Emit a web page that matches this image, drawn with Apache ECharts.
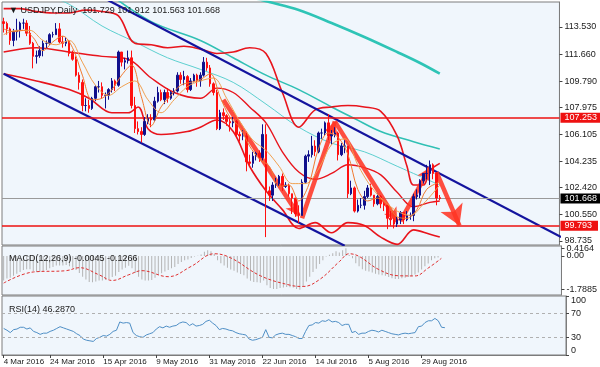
<!DOCTYPE html>
<html><head><meta charset="utf-8">
<script src="https://cdn.jsdelivr.net/npm/echarts@6/dist/echarts.min.js"></script>
<style>html,body{margin:0;padding:0;background:#fff}#c{width:600px;height:367px}</style>
</head><body><div id="c"></div>
<script>
// ---------- data ----------
const symbolName = 'USDJPY,Daily';
const tickLabels = ['4 Mar 2016','24 Mar 2016','15 Apr 2016','9 May 2016','31 May 2016','22 Jun 2016','14 Jul 2016','5 Aug 2016','29 Aug 2016'];
const priceTicks = [113.530,111.660,109.790,107.975,106.105,104.235,102.420,100.550,98.735];
const macdTicks = [0, -1.7885];
const macdMaxTick = [0.4164];
const rsiTicks = [0, 30, 70, 100];
const levelRed = [107.253, 99.793];
const lastPrice = 101.668;

// daily candles: [open, close, low, high]
const candles = [
[113.90,113.77,113.15,114.17],[113.77,113.40,113.00,113.90],[113.40,112.60,112.30,113.50],[112.60,113.20,112.20,113.40],
[113.20,113.30,112.60,114.10],[113.30,113.80,112.80,113.90],[113.80,113.80,113.40,114.10],[113.80,113.10,112.90,114.00],
[113.10,112.40,112.30,113.60],[112.40,111.50,110.67,112.50],[111.50,111.55,111.00,111.90],[111.55,111.90,111.40,112.20],
[111.90,112.40,111.50,112.60],[112.40,112.40,112.00,112.60],[112.40,113.00,112.30,113.10],[113.00,113.00,112.80,113.20],
[113.00,113.40,113.00,113.80],[113.40,112.50,112.40,113.80],[112.50,112.40,112.10,112.90],[112.40,112.55,112.20,112.80],
[112.55,111.70,111.50,112.60],[111.70,111.30,111.20,111.90],[111.30,110.20,110.10,111.50],[110.20,109.70,109.20,110.40],
[109.70,108.10,107.70,109.90],[108.10,108.10,107.70,108.60],[108.10,107.90,107.60,108.50],[107.90,108.60,107.80,108.70],
[108.60,109.40,108.40,109.50],[109.40,109.40,109.00,109.80],[109.40,108.80,108.60,109.70],[108.80,108.80,107.90,109.00],
[108.80,109.20,108.50,109.30],[109.20,109.80,109.00,110.00],[109.80,109.50,109.10,109.90],[109.50,111.80,109.40,111.90],
[111.80,111.10,110.80,111.80],[111.10,111.20,110.60,111.40],[111.20,111.40,111.00,111.90],[111.40,108.10,107.90,111.90],
[108.10,106.50,106.20,108.70],[106.50,106.30,106.10,107.00],[106.30,106.10,105.55,106.60],[106.10,107.00,106.00,107.30],
[107.00,107.20,106.80,107.50],[107.20,107.10,106.60,107.50],[107.10,108.40,107.00,108.70],[108.40,109.00,108.30,109.40],
[109.00,108.50,108.40,109.20],[108.50,109.00,108.20,109.20],[109.00,108.60,108.30,109.30],[108.60,109.00,108.50,109.10],
[109.00,109.10,108.80,109.30],[109.10,110.20,109.00,110.40],[110.20,109.90,109.60,110.40],[109.90,110.10,109.50,110.50],
[110.10,109.20,109.00,110.20],[109.20,109.80,109.10,110.00],[109.80,110.20,109.70,110.30],[110.20,109.80,109.40,110.30],
[109.80,110.20,109.40,110.40],[110.20,111.10,110.10,111.45],[111.10,110.70,110.50,111.40],[110.70,109.60,109.40,110.90],
[109.60,109.00,108.80,109.70],[109.00,106.50,106.40,109.20],[106.50,107.60,106.40,107.80],[107.60,107.40,107.10,107.90],
[107.40,107.00,106.70,107.50],[107.00,106.90,106.30,107.20],[106.90,107.00,106.60,107.30],[107.00,106.10,105.90,107.10],
[106.10,106.00,105.60,106.30],[106.00,106.00,105.70,106.40],[106.00,104.20,103.55,106.30],[104.20,104.10,103.90,104.70],
[104.10,104.60,103.80,104.90],[104.60,104.80,104.30,104.90],[104.80,104.50,104.20,105.00],[104.50,106.10,104.30,106.80],
[106.10,102.20,99.00,106.80],[102.20,101.90,101.50,102.50],[101.90,102.60,101.50,102.80],[102.60,102.70,102.40,103.10],
[102.70,103.20,102.50,103.30],[103.20,102.50,102.20,103.40],[102.50,102.60,102.40,102.80],[102.60,102.00,101.80,102.70],
[102.00,101.70,100.60,102.00],[101.70,100.60,100.40,101.70],[100.60,100.50,99.98,101.20],[100.50,102.80,100.50,103.00],
[102.80,104.60,102.70,104.70],[104.60,104.70,104.20,105.00],[104.70,105.30,104.50,106.00],[105.30,104.90,104.60,105.70],
[104.90,106.20,104.80,106.30],[106.20,106.20,105.80,106.50],[106.20,106.90,106.00,107.00],[106.90,106.00,105.70,107.50],
[106.00,106.10,105.40,106.40],[106.10,106.20,105.90,106.60],[106.20,104.70,104.30,106.30],[104.70,105.30,104.60,105.50],
[105.30,105.30,104.80,105.70],[105.30,102.00,101.70,105.30],[102.00,102.40,101.90,102.90],[102.40,100.80,100.70,102.50],
[100.80,101.20,100.70,101.60],[101.20,101.20,101.00,101.70],[101.20,101.80,100.90,102.20],[101.80,102.40,101.70,102.60],
[102.40,101.90,101.80,102.70],[101.90,101.30,101.10,101.90],[101.30,101.80,101.20,102.00],[101.80,101.30,101.00,101.90],
[101.30,101.20,100.80,101.40],[101.20,100.30,99.55,101.30],[100.30,100.20,99.80,100.80],[100.20,99.90,99.60,100.30],
[99.90,100.20,99.70,100.40],[100.20,100.70,99.90,100.80],[100.70,100.20,99.90,100.70],[100.20,100.50,100.10,100.80],
[100.50,100.50,100.20,100.70],[100.50,101.80,100.10,102.00],[101.80,101.90,101.60,102.30],[101.90,102.90,101.70,103.00],
[102.90,103.40,102.70,103.40],[103.40,103.40,103.00,104.00],[103.40,104.00,102.60,104.30],[104.00,103.40,103.00,104.10],
[103.40,101.70,101.20,103.50],[101.729,101.668,101.563,101.912]
];

// indicator lines: [bar index, price]
const bbUpper = [[0,114.8],[5,114.8],[10,114.6],[15,114.5],[20,114.5],[25,114.7],[30,114.6],[35,114.3],[40,112.4],[45,112.3],[50,112.1],[55,112.2],[60,112.0],[65,111.7],[70,111.8],[75,112.1],[80,111.7],[85,109.0],[90,106.6],[95,107.8],[100,108.0],[105,108.1],[110,108.0],[115,107.7],[120,106.0],[123,103.9],[125,102.6],[128,102.6],[130,103.6],[133,104.1]];
const bbMid = [[0,111.8],[10,112.1],[20,111.8],[30,111.5],[38,111.3],[45,110.0],[52,109.0],[60,108.6],[65,109.3],[70,109.0],[75,108.0],[80,106.9],[85,104.9],[90,103.5],[95,103.0],[100,103.4],[105,104.0],[110,103.8],[115,103.3],[120,102.1],[125,101.1],[130,101.4],[133,101.5]];
const bbLower = [[0,110.3],[10,109.8],[20,109.2],[26,108.6],[33,107.6],[38,107.6],[41,108.0],[44,106.5],[48,106.1],[56,106.3],[60,106.6],[65,107.1],[70,106.3],[75,103.9],[80,102.2],[85,100.9],[90,99.6],[95,100.0],[100,99.3],[105,100.0],[110,99.8],[115,99.0],[120,98.5],[125,99.5],[130,99.2],[133,99.0]];
const maFast = [[0,113.4],[3,113.2],[6,113.3],[9,112.8],[12,111.9],[15,112.5],[18,112.9],[21,112.1],[24,110.2],[27,108.5],[30,108.6],[33,109.2],[36,110.2],[39,110.9],[42,108.7],[45,106.7],[48,108.0],[51,108.8],[54,109.5],[57,109.7],[60,109.9],[63,110.3],[66,108.7],[69,107.3],[72,106.6],[75,105.3],[78,104.4],[81,103.9],[84,102.5],[87,102.6],[90,101.5],[93,102.6],[96,105.1],[99,106.2],[102,105.9],[105,104.7],[108,102.3],[111,101.5],[114,101.7],[117,101.3],[120,100.4],[123,100.3],[126,100.9],[129,102.3],[133,102.8]];
const maSlow = [[0,113.0],[4,113.3],[8,113.3],[12,112.6],[16,112.3],[20,112.6],[24,111.1],[28,109.5],[32,108.8],[36,109.4],[40,109.8],[44,108.5],[48,107.6],[52,108.5],[56,109.4],[60,109.8],[64,110.0],[68,108.6],[72,107.0],[76,105.7],[80,105.0],[84,103.9],[88,102.7],[92,102.7],[96,103.7],[100,105.4],[104,105.8],[108,104.0],[112,102.5],[116,101.5],[120,100.8],[124,100.5],[128,101.3],[133,102.6]];
const ma50 = [[10,116.0],[20,115.1],[30,113.6],[40,112.5],[50,111.4],[60,110.6],[70,109.7],[80,108.2],[90,106.6],[100,105.5],[110,104.9],[120,103.9],[133,102.6]];
const ma100 = [[30,116.2],[45,113.9],[60,112.6],[70,111.4],[80,110.2],[90,109.2],[100,108.0],[107,107.2],[115,106.3],[125,105.6],[133,105.1]];
const ma200 = [[72,115.8],[81,115.26],[90,114.71],[100,113.81],[110,112.84],[120,111.8],[127,111.04],[133,110.3]];
// trend channel lines: [bar index, price]
const channelUpper = [[30,115.6],[170,99.0]];
const channelLower = [[0,110.3],[104,98.4]];
// drawn arrows: start and end [bar index, price]
const arrows = [
  [[67,108.5],[90,100.5]],
  [[91,100.3],[101,107.0]],
  [[101,107.0],[120,100.1]],
  [[121,100.1],[130,103.8]],
  [[132,103.5],[139,99.8]]
];
// MACD(12,26,9) main (histogram) per bar and signal line
const macdMain = [
-1.30,-1.20,-1.15,-1.05,-0.95,-0.85,-0.75,-0.70,-0.70,-0.80,
-0.85,-0.85,-0.80,-0.75,-0.65,-0.58,-0.50,-0.50,-0.50,-0.48,
-0.55,-0.62,-0.75,-0.90,-1.10,-1.25,-1.38,-1.40,-1.35,-1.30,
-1.30,-1.28,-1.22,-1.12,-1.05,-0.85,-0.72,-0.62,-0.52,-0.65,
-0.90,-1.10,-1.25,-1.30,-1.30,-1.28,-1.15,-1.00,-0.92,-0.82,
-0.75,-0.65,-0.58,-0.42,-0.32,-0.22,-0.18,-0.10,-0.02,0.02,
0.08,0.22,0.30,0.25,0.10,-0.22,-0.38,-0.50,-0.62,-0.72,
-0.78,-0.88,-0.96,-1.02,-1.20,-1.32,-1.38,-1.40,-1.42,-1.30,
-1.55,-1.70,-1.76,-1.75,-1.70,-1.68,-1.65,-1.66,-1.68,-1.75,
-1.7885,-1.62,-1.35,-1.10,-0.85,-0.68,-0.42,-0.22,-0.02,0.06,
0.14,0.25,0.18,0.30,0.4164,0.05,-0.12,-0.38,-0.55,-0.70,
-0.78,-0.82,-0.88,-0.95,-0.98,-1.02,-1.05,-1.12,-1.18,-1.22,
-1.22,-1.18,-1.16,-1.12,-1.08,-0.98,-0.88,-0.72,-0.55,-0.40,
-0.22,-0.12,-0.08,-0.0045];
const macdSignal = [[0,-1.44],[9,-0.85],[19,-0.78],[23,-0.62],[29,-1.0],[33,-1.3],[38,-1.0],[42,-0.78],[50,-1.1],[57,-0.55],[64,0.12],[69,-0.1],[78,-1.05],[87,-1.55],[91,-1.62],[96,-1.25],[102,-0.3],[105,0.12],[108,-0.02],[114,-0.72],[120,-1.05],[125,-1.06],[129,-0.64],[133,-0.1266]];
// RSI(14) per bar
const rsi = [
45,42,38,43,44,47,47,44,46,40,38,35,37,37,40,42,45,48,46,44,
42,40,36,33,27,25,24,23,28,30,33,32,35,40,42,56,54,55,54,38,
33,31,30,34,36,38,44,48,46,49,47,49,50,54,56,55,50,53,49,50,
52,57,59,54,50,43,45,44,42,41,38,36,35,34,27,25,26,28,30,43,
30,29,34,36,37,35,35,33,31,28,28,40,50,51,55,54,58,57,60,56,
57,55,50,52,52,38,40,35,37,37,40,42,41,39,42,40,38,36,35,34,
36,37,36,37,38,48,49,55,58,58,62,58,47,46.287];

// ---------- build ----------
const FONT = "'Liberation Sans Narrow','Liberation Sans',Arial,sans-serif";
const months = ['Jan','Feb','Mar','Apr','May','Jun','Jul','Aug','Sep','Oct','Nov','Dec'];
const categories = [];
(function(){
  const d = new Date(Date.UTC(2016,2,4));
  while (categories.length < 170) {
    const wd = d.getUTCDay();
    if (wd !== 0 && wd !== 6) categories.push(d.getUTCDate()+' '+months[d.getUTCMonth()]+' '+d.getUTCFullYear());
    d.setUTCDate(d.getUTCDate()+1);
  }
})();
const last = candles[candles.length-1];
const isTick = (i, v) => tickLabels.indexOf(v) >= 0;
const gridBg = '#f0f6fc', frame = '#7c7c7c';
const txt = {fontFamily: FONT, fontSize: 9, color: '#1a1a1a'};
const lab = {fontFamily: FONT, fontSize: 9, color: '#1a1a1a', margin: 5};

function lineS(data, color, width, extra) {
  return Object.assign({type:'line', xAxisIndex:0, yAxisIndex:0, data: data, showSymbol:false, symbol:'none',
    smooth:0.35, lineStyle:{color:color, width:width}, silent:true, z:3}, extra||{});
}

const option = {
  animation:false,
  backgroundColor:'#ffffff',
  title:[
    {text:'\u25BC '+symbolName+'  '+last[0].toFixed(3)+' '+last[3].toFixed(3)+' '+last[2].toFixed(3)+' '+last[1].toFixed(3), left:4, top:1, textStyle:Object.assign({fontWeight:'normal'}, txt)},
    {text:'MACD(12,26,9) '+macdMain[macdMain.length-1].toFixed(4)+' '+macdSignal[macdSignal.length-1][1].toFixed(4), left:4, top:249, textStyle:Object.assign({fontWeight:'normal'}, txt)},
    {text:'RSI(14) '+rsi[rsi.length-1].toFixed(4), left:4, top:300, textStyle:Object.assign({fontWeight:'normal'}, txt)}
  ],
  grid:[
    {left:2, right:34, top:2, height:243, show:true, backgroundColor:gridBg, borderColor:frame, borderWidth:1},
    {left:2, right:34, top:246, height:49, show:true, backgroundColor:gridBg, borderColor:frame, borderWidth:1},
    {left:2, right:34, top:296, height:59, show:true, backgroundColor:gridBg, borderColor:frame, borderWidth:1}
  ],
  xAxis:[0,1,2].map(g => ({
    type:'category', gridIndex:g, data:categories, boundaryGap:true,
    axisLine:{show:g===2, lineStyle:{color:frame}},
    axisTick:{show:g===2, alignWithLabel:true, interval:isTick, length:3, lineStyle:{color:'#444'}},
    axisLabel:{show:g===2, interval:isTick, align:'left', margin:3, fontFamily:FONT, fontSize:8, color:'#1a1a1a'},
    splitLine:{show:false}
  })),
  yAxis:[
    {type:'value', gridIndex:0, position:'right', min:98.454, max:115.259,
      axisLine:{show:true, lineStyle:{color:frame}}, splitLine:{show:false},
      axisTick:{show:true, length:3, customValues:priceTicks, lineStyle:{color:'#444'}},
      axisLabel:Object.assign({customValues:priceTicks, formatter:v=>Number(v).toFixed(3)}, lab)},
    {type:'value', gridIndex:1, position:'right', min:-2.074, max:0.532,
      axisLine:{show:true, lineStyle:{color:frame}}, splitLine:{show:false},
      axisTick:{show:true, length:3, customValues:macdTicks, lineStyle:{color:'#444'}},
      axisLabel:Object.assign({customValues:macdTicks, formatter:v=>(v===0?'0.00':Number(v).toFixed(4))}, lab)},
    {type:'value', gridIndex:2, position:'right', min:0, max:100,
      axisLine:{show:true, lineStyle:{color:frame}}, splitLine:{show:false},
      axisTick:{show:true, length:3, customValues:rsiTicks, lineStyle:{color:'#444'}},
      axisLabel:Object.assign({customValues:rsiTicks, verticalAlignMaxLabel:'top', verticalAlignMinLabel:'bottom'}, lab)},
    {type:'value', gridIndex:1, position:'right', min:-2.074, max:0.532,
      axisLine:{show:false}, splitLine:{show:false},
      axisTick:{show:true, length:3, customValues:macdMaxTick, lineStyle:{color:'#444'}},
      axisLabel:Object.assign({customValues:macdMaxTick, formatter:v=>Number(v).toFixed(4)}, lab)}
  ],
  series:[
    lineS(ma200, '#2ec4b6', 2.6),
    lineS(ma100, '#30c0b4', 1.6),
    lineS(ma50, '#5ccfcf', 1),
    lineS(bbUpper, '#e8141c', 1.6),
    lineS(bbMid, '#e8141c', 1.4),
    lineS(bbLower, '#e8141c', 1.6),
    lineS(channelUpper, '#14149e', 2.2, {smooth:false, z:4}),
    lineS(channelLower, '#14149e', 2.2, {smooth:false, z:4}),
    {type:'candlestick', xAxisIndex:0, yAxisIndex:0, data:candles, barWidth:2, z:5, silent:true,
      itemStyle:{color:'#10108c', color0:'#ff1010', borderColor:'#10108c', borderColor0:'#ff1010', borderWidth:1},
      markLine:{symbol:'none', silent:true, animation:false,
        data:[
          {yAxis:levelRed[0], lineStyle:{color:'#ee1111', width:1.6, type:'solid'},
            label:{show:true, position:'end', distance:1, formatter:levelRed[0].toFixed(3), backgroundColor:'#ee1111', color:'#fff', padding:[1,3,0,4], fontFamily:FONT, fontSize:9}},
          {yAxis:levelRed[1], lineStyle:{color:'#ee1111', width:1.6, type:'solid'},
            label:{show:true, position:'end', distance:1, formatter:levelRed[1].toFixed(3), backgroundColor:'#ee1111', color:'#fff', padding:[1,6,0,4], fontFamily:FONT, fontSize:9}},
          {yAxis:lastPrice, lineStyle:{color:'#9a9a9a', width:1, type:'solid'},
            label:{show:true, position:'end', distance:1, formatter:lastPrice.toFixed(3), backgroundColor:'#000', color:'#fff', padding:[1,3,0,4], fontFamily:FONT, fontSize:9}}
        ]}},
    lineS(maSlow, '#f0a050', 1, {z:6}),
    lineS(maFast, '#f07a30', 1, {z:6}),
    {type:'line', xAxisIndex:0, yAxisIndex:0, data:[], silent:true, z:7,
      markLine:{silent:true, animation:false, symbol:['none','arrow'], symbolSize:[11,13],
        lineStyle:{color:'#ff3524', width:4.5, type:'solid', opacity:0.88},
        label:{show:false},
        data:arrows.map((a,k) => [{coord:a[0]}, {coord:a[1], symbolSize: k===arrows.length-1 ? [18,20] : [11,13]}])}},
    {type:'bar', xAxisIndex:1, yAxisIndex:1, data:macdMain, barWidth:1, itemStyle:{color:'#b4b4b4'}, silent:true},
    {type:'line', xAxisIndex:1, yAxisIndex:1, data:macdSignal, showSymbol:false, symbol:'none', smooth:0.4, silent:true,
      lineStyle:{color:'#e03030', width:1, type:[3,2]}},
    {type:'line', xAxisIndex:2, yAxisIndex:2, data:rsi, showSymbol:false, symbol:'none', silent:true,
      lineStyle:{color:'#4f8fc6', width:1},
      markLine:{symbol:'none', silent:true, label:{show:false},
        lineStyle:{color:'#b0b0b0', width:1, type:[3,3]},
        data:[{yAxis:30},{yAxis:70}]}}
  ]
};
const chart = echarts.init(document.getElementById('c'), null, {renderer:'canvas'});
chart.setOption(option);
</script></body></html>
